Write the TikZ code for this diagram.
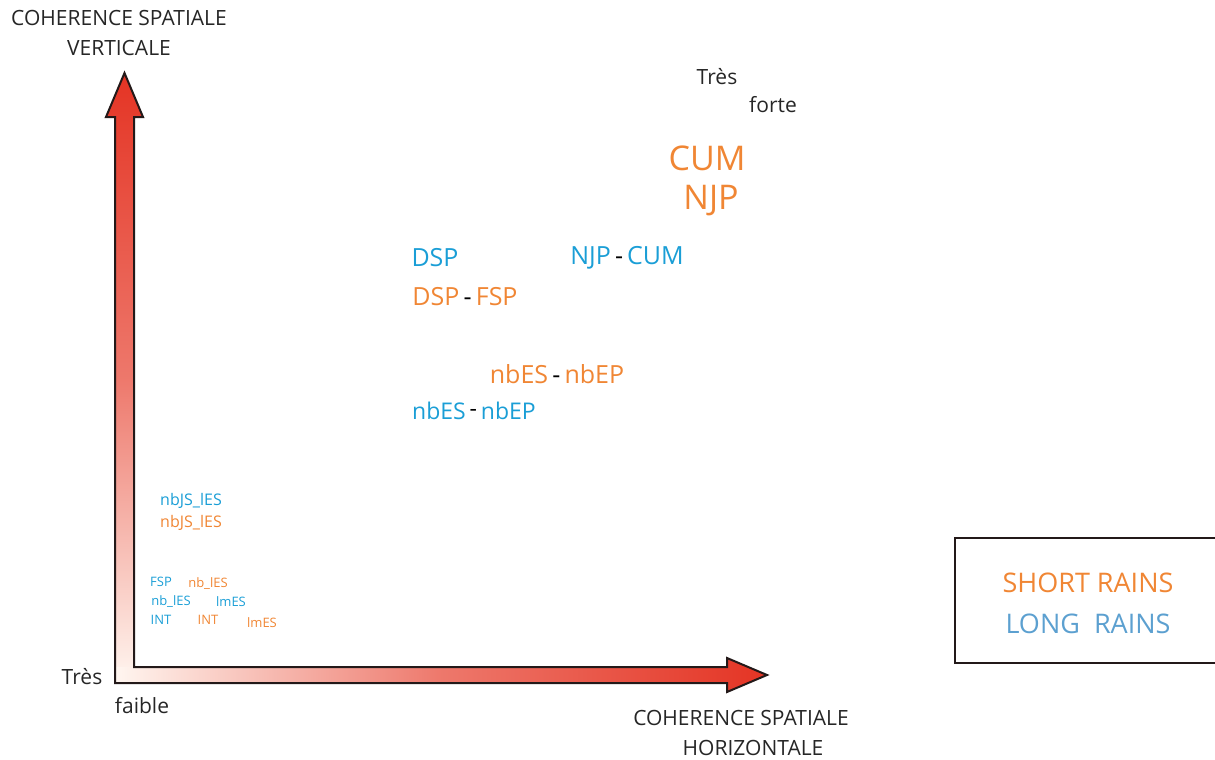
\documentclass[tikz,border=0pt]{standalone}
\usepackage{fontspec}
\setmainfont{Open Sans}
\definecolor{shortc}{RGB}{240,134,52}
\definecolor{longc}{RGB}{26,158,214}
\definecolor{legblue}{RGB}{92,160,208}
\definecolor{axred}{RGB}{228,52,36}
\definecolor{axlight}{RGB}{255,246,240}
\definecolor{axline}{RGB}{35,25,25}
\tikzset{
  txt/.style={inner sep=0pt, anchor=center},
  axislbl/.style={txt, align=center, font=\fontsize{21}{30}\selectfont, text=black!85},
  bigtxt/.style={txt, font=\fontsize{34}{40}\selectfont},
  midtxt/.style={txt, font=\fontsize{25}{30}\selectfont},
  smalltxt/.style={txt, font=\fontsize{16}{18}\selectfont},
  tinytxt/.style={txt, font=\fontsize{13}{15}\selectfont},
}
\begin{document}
\begin{tikzpicture}[x=1pt,y=-1pt]
\useasboundingbox (0,0) rectangle (1215,760);

% axes
\shade[bottom color=axlight, top color=axred, middle color=axred!65!axlight] (115,683) -- (115,117) -- (106,117) -- (124.5,73) -- (143,117) -- (134,117) -- (134,683) -- cycle;
\shade[left color=axlight, right color=axred, middle color=axred!65!axlight] (115,683) -- (115,667) -- (727,667) -- (727,658) -- (767,675) -- (727,692) -- (727,683) -- cycle;
\draw[axline, line width=2pt] (115,683) -- (115,117) -- (106,117) -- (124.5,73) -- (143,117) -- (134,117) -- (134,667) -- (727,667) -- (727,658) -- (767,675) -- (727,692) -- (727,683) -- cycle;

\node[axislbl] (vlab) at (119,33) {COHERENCE SPATIALE\\VERTICALE};
\node[axislbl] (hlab) at (741,733) {COHERENCE SPATIALE\\\hspace*{24pt}HORIZONTALE};
\node[axislbl] (tres1) at (82,677) {Très};
\node[axislbl] (faible) at (142,706) {faible};
\node[axislbl] (tres2) at (717,77) {Très};
\node[axislbl] (forte) at (773,105) {forte};

% strong coherence
\node[bigtxt, text=shortc] (cum) at (707,158) {CUM};
\node[bigtxt, text=shortc] (njp) at (711,201) {NJP};
\node[midtxt, text=longc] (dspl) at (435,258) {DSP};
\node[midtxt] (njpcum) at (627,258) {\textcolor{longc}{NJP}\,-\,\textcolor{longc}{CUM}};
\node[midtxt] (dspfsp) at (465,297) {\textcolor{shortc}{DSP}\,-\,\textcolor{shortc}{FSP}};
\node[midtxt] (nbess) at (557,374) {\textcolor{shortc}{nbES}\,-\,\textcolor{shortc}{nbEP}};
\node[midtxt, font=\fontsize{23}{28}\selectfont] (nbesl) at (474,411) {\textcolor{longc}{nbES}\,\raisebox{3pt}{-}\,\textcolor{longc}{nbEP}};

% weak coherence
\node[smalltxt, text=longc] (nbjsl) at (191,501) {nbJS\_lES};
\node[smalltxt, text=shortc] (nbjss) at (191,523) {nbJS\_lES};
\node[tinytxt, text=longc] (fspl) at (161,582) {FSP};
\node[tinytxt, text=shortc] (nbless) at (208,584) {nb\_lES};
\node[tinytxt, text=longc] (nblesl) at (171,602) {nb\_lES};
\node[tinytxt, text=longc] (lmesl) at (231,602) {lmES};
\node[tinytxt, text=longc] (intl) at (161,620) {INT};
\node[tinytxt, text=shortc] (ints) at (208,620) {INT};
\node[tinytxt, text=shortc] (lmess) at (262,623) {lmES};

% legend
\draw[axline, line width=2pt] (955,538) rectangle (1230,663);
\node[midtxt, font=\fontsize{27}{30}\selectfont, text=shortc] (shortr) at (1088,583) {SHORT RAINS};
\node[midtxt, font=\fontsize{27}{30}\selectfont, text=legblue] (longr) at (1088,624) {LONG\ \ RAINS};
\end{tikzpicture}
\end{document}
